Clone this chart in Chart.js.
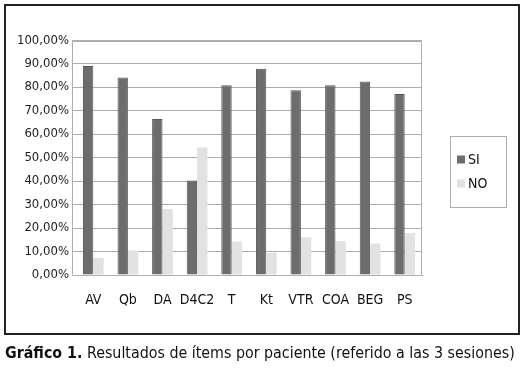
<!DOCTYPE html>
<html>
<head>
<meta charset="utf-8">
<script src="https://cdn.jsdelivr.net/npm/chart.js@4/dist/chart.umd.min.js"></script>
<style>
  html, body { margin: 0; padding: 0; background: #fff; }
  body { width: 525px; height: 379px; position: relative; overflow: hidden; }
  #c { position: absolute; left: 0; top: 0; }
  #frame { position: absolute; left: 4px; top: 4px; width: 516px; height: 331px; box-sizing: border-box; border: 2px solid #222; pointer-events: none; }
  #caption { position: absolute; left: 5px; top: 343px; white-space: nowrap; font-family: "DejaVu Sans Condensed", "DejaVu Sans", sans-serif; font-size: 13.5px; color: #111; }
  #caption b { font-weight: bold; }
</style>
</head>
<body>
<canvas id="c" width="525" height="334"></canvas>
<div id="frame"></div>
<div id="caption"><b>Gráfico 1.</b> Resultados de ítems por paciente (referido a las 3 sesiones)</div>
<script>
const categories = ['AV', 'Qb', 'DA', 'D4C2', 'T', 'Kt', 'VTR', 'COA', 'BEG', 'PS'];
const seriesNames = ['SI', 'NO'];
const siValues = [89.1, 84.2, 66.5, 40.3, 80.9, 88.0, 78.8, 80.9, 82.5, 77.2];
const noValues = [7.3, 10.4, 28.1, 54.4, 14.3, 9.5, 16.1, 14.4, 13.4, 17.9];
const yTickValues = [0, 10, 20, 30, 40, 50, 60, 70, 80, 90, 100];
const yTickLabels = ['0,00%', '10,00%', '20,00%', '30,00%', '40,00%', '50,00%', '60,00%', '70,00%', '80,00%', '90,00%', '100,00%'];

const GRID = '#adadad';

const frameAndLegend = {
  id: 'frameAndLegend',
  beforeDatasetsDraw(chart) {
    const a = chart.chartArea, ctx = chart.ctx;
    ctx.save();
    ctx.strokeStyle = GRID;
    ctx.lineWidth = 1;
    ctx.beginPath();
    const l = Math.round(a.left - 4) + 0.5, r = Math.round(a.right) - 0.5;
    const t = Math.round(a.top) + 0.5, b = Math.round(a.bottom) - 0.5;
    ctx.moveTo(l, b); ctx.lineTo(l, t); ctx.lineTo(r, t); ctx.lineTo(r, b);
    ctx.stroke();
    ctx.restore();
  },
  afterDraw(chart) {
    const ctx = chart.ctx;
    ctx.save();
    ctx.strokeStyle = GRID;
    ctx.lineWidth = 1;
    ctx.strokeRect(450.5, 136.5, 56, 71);
    chart.data.datasets.forEach((ds, i) => {
      const cy = 159.5 + i * 24;
      ctx.fillStyle = ds.backgroundColor;
      ctx.fillRect(457, cy - 4, 8, 8);
      ctx.fillStyle = '#111';
      ctx.font = '14px "Liberation Sans Narrow", "DejaVu Sans Condensed", sans-serif';
      ctx.textBaseline = 'middle';
      ctx.textAlign = 'left';
      ctx.fillText(ds.label, 468, cy + 1);
    });
    ctx.restore();
  }
};

new Chart(document.getElementById('c'), {
  type: 'bar',
  data: {
    labels: categories,
    datasets: [
      { label: seriesNames[0], data: siValues, backgroundColor: '#6d6d6d', borderColor: '#575757', borderWidth: 1 },
      { label: seriesNames[1], data: noValues, backgroundColor: '#e2e2e2', borderWidth: 0 }
    ]
  },
  options: {
    responsive: false,
    animation: false,
    devicePixelRatio: 1,
    categoryPercentage: 0.6,
    barPercentage: 1.0,
    layout: { padding: { top: 40.5, right: 103, bottom: 0, left: 0 } },
    plugins: { legend: { display: false }, tooltip: { enabled: false }, title: { display: false } },
    scales: {
      x: {
        grid: { display: false, drawTicks: false },
        border: { display: true, color: GRID, width: 1 },
        ticks: {
          font: { family: '"Liberation Sans Narrow", "DejaVu Sans Condensed", sans-serif', size: 14 },
          color: '#111', padding: 17, maxRotation: 0, autoSkip: false
        },
        afterFit(s) { s.height = 59; }
      },
      y: {
        min: 0, max: 100,
        afterBuildTicks(s) { s.ticks = yTickValues.map(v => ({ value: v })); },
        ticks: {
          callback: (v) => yTickLabels[yTickValues.indexOf(v)],
          font: { family: '"DejaVu Sans", sans-serif', size: 11.7 },
          color: '#1e1e1e', padding: 3
        },
        grid: { color: GRID, lineWidth: 1, drawTicks: true, tickLength: 4 },
        border: { display: false },
        afterFit(s) { s.width = 76; }
      }
    }
  },
  plugins: [frameAndLegend]
});

// fit caption to the reference width
(function () {
  const cap = document.getElementById('caption');
  const target = 510;
  const w = cap.getBoundingClientRect().width;
  if (w > 0) {
    const size = 13.5 * target / w;
    cap.style.fontSize = size.toFixed(2) + 'px';
  }
})();
</script>
</body>
</html>
